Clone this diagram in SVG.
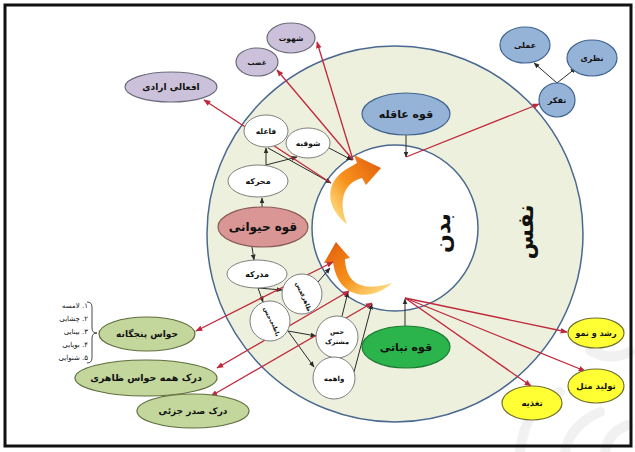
<svg xmlns="http://www.w3.org/2000/svg" width="635" height="452" viewBox="0 0 635 452">
<defs>
<style>
text{font-family:"DejaVu Sans","Noto Sans",sans-serif;font-weight:bold;text-anchor:middle;fill:#111;}
.blue{fill:#95b3d7;stroke:#41648f;stroke-width:1.2;}
.purple{fill:#ccc1da;stroke:#6a6a7a;stroke-width:1.2;}
.white{fill:#fff;stroke:#7f7f7f;stroke-width:1;}
.pink{fill:#d99694;stroke:#8a5a5a;stroke-width:1.2;}
.dgreen{fill:#2bb34c;stroke:#1d7a34;stroke-width:1.2;}
.lgreen{fill:#c3d69b;stroke:#5f6e3e;stroke-width:1.2;}
.yellow{fill:#ffff33;stroke:#707030;stroke-width:1.2;}
.blk{stroke:#2a2a2a;stroke-width:1;fill:none;marker-end:url(#ab);}
.red{stroke:#c0283c;stroke-width:1.3;fill:none;marker-end:url(#ar);}
.red2{stroke:#c0283c;stroke-width:1.3;fill:none;marker-end:url(#ar);marker-start:url(#ars);}
.list{font-weight:normal;font-size:7px;text-anchor:start;}
</style>
<marker id="ab" viewBox="0 0 10 10" refX="9" refY="5" markerWidth="6" markerHeight="6" orient="auto" markerUnits="userSpaceOnUse"><path d="M0,1 L10,5 L0,9 Z" fill="#2a2a2a"/></marker>
<marker id="ar" viewBox="0 0 10 10" refX="9" refY="5" markerWidth="7" markerHeight="7" orient="auto" markerUnits="userSpaceOnUse"><path d="M0,1 L10,5 L0,9 Z" fill="#c0283c"/></marker>
<marker id="ars" viewBox="0 0 10 10" refX="9" refY="5" markerWidth="7" markerHeight="7" orient="auto-start-reverse" markerUnits="userSpaceOnUse"><path d="M0,1 L10,5 L0,9 Z" fill="#c0283c"/></marker>
<linearGradient id="og1" x1="0" y1="1" x2="1" y2="0">
<stop offset="0" stop-color="#ffd24a" stop-opacity="0.6"/><stop offset="0.45" stop-color="#f7941d"/><stop offset="0.85" stop-color="#e86a10"/><stop offset="1" stop-color="#b8400a"/>
</linearGradient>
<linearGradient id="og2" x1="1" y1="1" x2="0" y2="0">
<stop offset="0" stop-color="#ffd24a" stop-opacity="0.6"/><stop offset="0.45" stop-color="#f7941d"/><stop offset="0.85" stop-color="#e86a10"/><stop offset="1" stop-color="#b8400a"/>
</linearGradient>
</defs>
<rect x="0" y="0" width="635" height="452" fill="#fff"/>
<!-- watermark -->
<g fill="none" stroke="#f1f1f1" stroke-width="10" stroke-linecap="round">
<path d="M520 452 Q525 405 560 392"/>
<path d="M565 452 Q570 425 600 412"/>
<path d="M605 452 Q608 432 628 425"/>
<path d="M590 350 Q608 362 630 352"/>
</g>
<rect x="5" y="5" width="626" height="441" fill="none" stroke="#111" stroke-width="3"/>

<!-- circles -->
<g id="nafs">
<circle cx="395" cy="234" r="188" fill="#edf0dc" stroke="#4a6890" stroke-width="1.5"/>
<text transform="translate(525,232) rotate(-90)" font-size="22" dy="8">نفس</text>
</g>
<g id="badan">
<circle cx="395" cy="228" r="83" fill="#fff" stroke="#4a6890" stroke-width="1.5"/>
<text transform="translate(442,233) rotate(-90)" font-size="22" dy="8">بدن</text>
</g>

<!-- orange arrows -->
<g id="orange-arrows">
<path d="M347 224 C326 208 324 184 345 170 L357 163 L354 155 L381 168 L366 185 L362 178 C345 182 337 200 347 224 Z" fill="url(#og1)"/>
<path d="M336 242 L350 258 L345 259 C346 282 360 293 392 283 C372 302 338 300 333 262 L324 263 Z" fill="url(#og2)"/>
</g>

<!-- connectors -->
<g id="connectors">
<line class="blk" x1="262" y1="207" x2="262" y2="198"/>
<line class="blk" x1="266" y1="165" x2="266" y2="148"/>
<line class="blk" x1="266" y1="165" x2="297" y2="157"/>
<line class="blk" x1="268" y1="148" x2="331" y2="183"/>
<line class="blk" x1="329" y1="148" x2="352" y2="160"/>
<line class="blk" x1="406" y1="135" x2="406" y2="157"/>
<line class="blk" x1="557" y1="83" x2="534" y2="63"/>
<line class="blk" x1="557" y1="83" x2="576" y2="68"/>
<line class="blk" x1="252" y1="247" x2="254" y2="260"/>
<line class="blk" x1="258" y1="288" x2="282" y2="290"/>
<line class="blk" x1="258" y1="288" x2="263" y2="302"/>
<line class="blk" x1="288" y1="331" x2="316" y2="336"/>
<line class="blk" x1="288" y1="331" x2="314" y2="367"/>
<line class="blk" x1="318" y1="282" x2="330" y2="268"/>
<line class="blk" x1="342" y1="316" x2="348" y2="292"/>
<line class="blk" x1="354" y1="372" x2="372" y2="304"/>
<line class="blk" x1="405" y1="326" x2="405" y2="299"/>

<line class="red" x1="353" y1="160" x2="317" y2="42"/>
<line class="red" x1="353" y1="160" x2="277" y2="70"/>
<line class="red" x1="331" y1="183" x2="204" y2="100"/>
<line class="red" x1="406" y1="157" x2="539" y2="104"/>
<line class="red2" x1="333" y1="262" x2="196" y2="331"/>
<line class="red2" x1="349" y1="291" x2="217" y2="368"/>
<line class="red2" x1="372" y1="303" x2="211" y2="396"/>
<line class="red" x1="405" y1="298" x2="567" y2="332"/>
<line class="red" x1="405" y1="298" x2="585" y2="371"/>
<line class="red" x1="405" y1="298" x2="531" y2="386"/>
</g>

<!-- nodes -->
<g id="shahvat"><ellipse class="purple" cx="291" cy="38" rx="24" ry="15"/><text x="291" y="41" font-size="7.5">شهوت</text></g>
<g id="ghazab"><ellipse class="purple" cx="257" cy="62" rx="21" ry="14"/><text x="257" y="65" font-size="7">غضب</text></g>
<g id="afaal"><ellipse class="purple" cx="171" cy="87" rx="46" ry="15"/><text x="171" y="90" font-size="9">افعالی ارادی</text></g>

<g id="amali"><ellipse class="blue" cx="525" cy="45" rx="25" ry="18"/><text x="525" y="48" font-size="8">عملی</text></g>
<g id="nazari"><ellipse class="blue" cx="592" cy="58" rx="25" ry="18"/><text x="592" y="61" font-size="8">نظری</text></g>
<g id="tafakkor"><ellipse class="blue" cx="557" cy="100" rx="18" ry="17"/><text x="557" y="103" font-size="8">تفکر</text></g>
<g id="aqele"><ellipse class="blue" cx="406" cy="114" rx="44" ry="21"/><text x="406" y="118" font-size="11">قوه عاقله</text></g>

<g id="faele"><ellipse class="white" cx="266" cy="131" rx="22" ry="16"/><text x="266" y="134" font-size="7.5">فاعله</text></g>
<g id="showqie"><ellipse class="white" cx="308" cy="143" rx="22" ry="15"/><text x="308" y="146" font-size="7.5">شوقیه</text></g>
<g id="moharreke"><ellipse class="white" cx="258" cy="181" rx="30" ry="16"/><text x="258" y="184" font-size="8">محرکه</text></g>
<g id="heyvani"><ellipse class="pink" cx="263" cy="227" rx="45" ry="20"/><text x="263" y="231" font-size="12">قوه حیوانی</text></g>
<g id="modrake"><ellipse class="white" cx="257" cy="274" rx="30" ry="14"/><text x="257" y="277" font-size="8">مدرکه</text></g>
<g id="zaheri"><circle class="white" cx="302" cy="294" r="20"/>
<text transform="translate(298,289) rotate(70)" font-size="6">حس</text>
<text transform="translate(304,302) rotate(70)" font-size="6">ظاهری</text></g>
<g id="bateni"><circle class="white" cx="270" cy="321" r="20"/>
<text transform="translate(266,314) rotate(70)" font-size="6">حس</text>
<text transform="translate(273,328) rotate(70)" font-size="6">باطنی</text></g>
<g id="moshtarak"><circle class="white" cx="337" cy="337" r="21"/>
<text x="337" y="334" font-size="6.5">حس</text>
<text x="337" y="344" font-size="6.5">مشترک</text></g>
<g id="vahme"><circle class="white" cx="334" cy="378" r="21"/><text x="334" y="381" font-size="7">واهمه</text></g>

<g id="nabati"><ellipse class="dgreen" cx="406" cy="347" rx="44" ry="21"/><text x="406" y="351" font-size="11">قوه نباتی</text></g>

<g id="roshd"><ellipse class="yellow" cx="596" cy="333" rx="28" ry="15"/><text x="596" y="336" font-size="8">رشد و نمو</text></g>
<g id="tolid"><ellipse class="yellow" cx="596" cy="386" rx="28" ry="17"/><text x="596" y="389" font-size="8.5">تولید مثل</text></g>
<g id="taghzie"><ellipse class="yellow" cx="532" cy="403" rx="30" ry="17"/><text x="532" y="406" font-size="8.5">تغذیه</text></g>

<g id="havas"><ellipse class="lgreen" cx="147" cy="334" rx="48" ry="17"/><text x="147" y="337" font-size="9">حواس پنجگانه</text></g>
<g id="dark"><ellipse class="lgreen" cx="146" cy="378" rx="71" ry="18"/><text x="146" y="381" font-size="9.5">درک همه حواس ظاهری</text></g>
<g id="sadr"><ellipse class="lgreen" cx="193" cy="411" rx="56" ry="17"/><text x="193" y="414" font-size="9">درک صدر جزئی</text></g>

<g id="list">
<path d="M87 302 Q92 302 92 307 L92 328 Q92 333 97 333 Q92 333 92 338 L92 358 Q92 363 87 363" fill="none" stroke="#333" stroke-width="0.9"/>
<text class="list" x="88" y="308" direction="rtl">۱. لامسه</text>
<text class="list" x="88" y="321" direction="rtl">۲. چشایی</text>
<text class="list" x="88" y="334" direction="rtl">۳. بینایی</text>
<text class="list" x="88" y="347" direction="rtl">۴. بویایی</text>
<text class="list" x="88" y="360" direction="rtl">۵. شنوایی</text>
</g>
</svg>
